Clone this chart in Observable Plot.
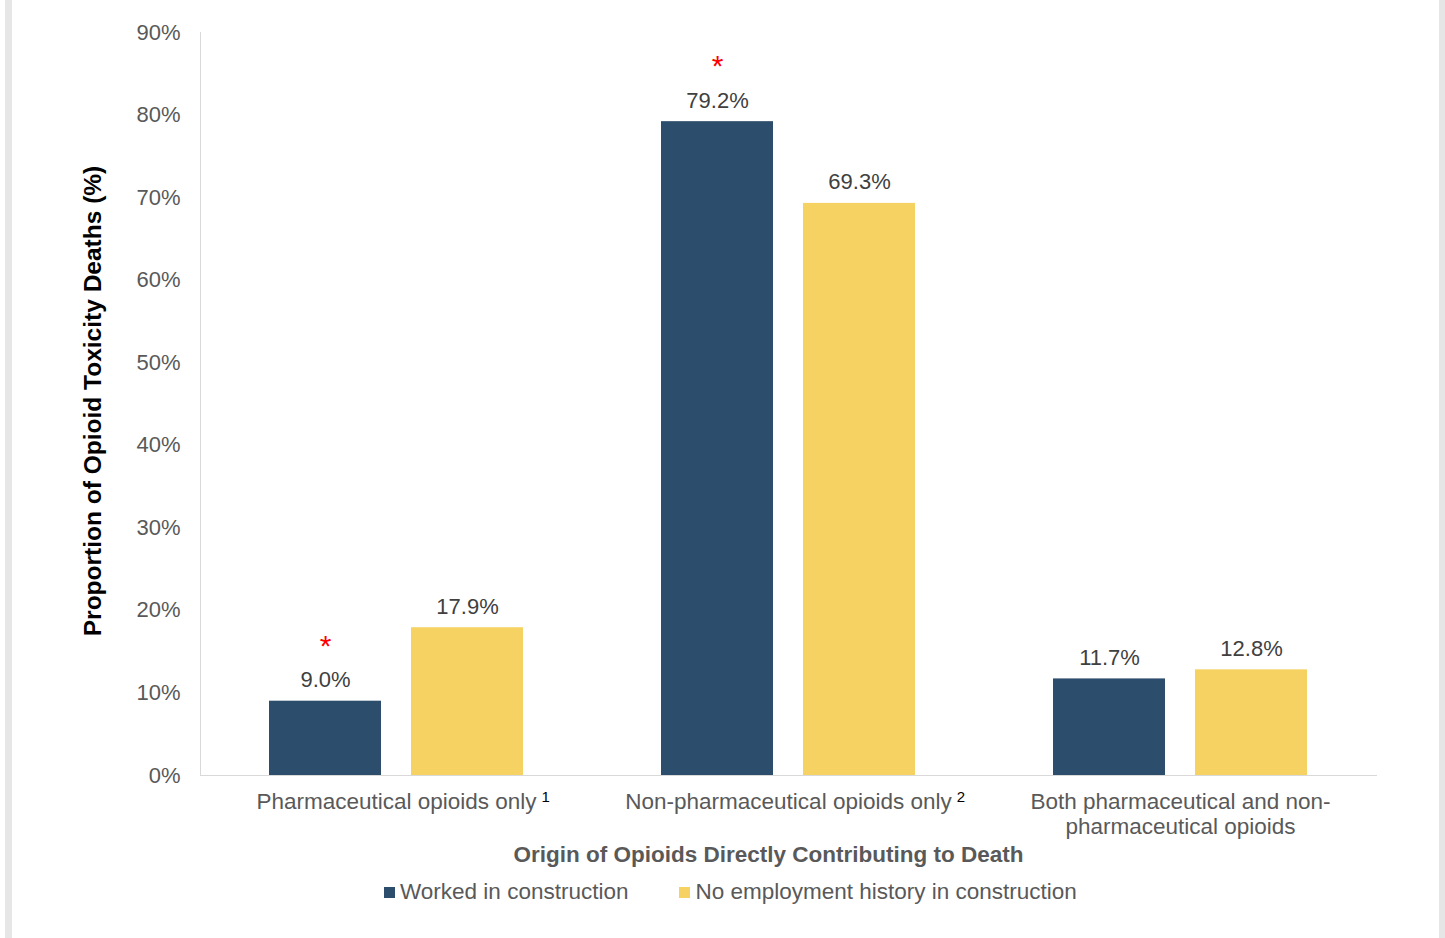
<!DOCTYPE html>
<html>
<head>
<meta charset="utf-8">
<script src="https://cdn.jsdelivr.net/npm/d3@7"></script>
<script src="https://cdn.jsdelivr.net/npm/@observablehq/plot@0.6"></script>
<style>
  html, body { margin: 0; padding: 0; background: #fff; }
  #page { position: relative; width: 1445px; height: 938px; overflow: hidden;
          font-family: "Liberation Sans", Arial, sans-serif; }
  #page::before { content: ""; position: absolute; left: 5px; top: 0; width: 7px; height: 938px; background: #e6e6e6; }
  #page::after { content: ""; position: absolute; left: 1439px; top: 0; width: 6px; height: 938px; background: #e6e6e6; }
  #chart svg { display: block; }
  #legend { position: absolute; left: 384px; top: 879px; display: flex; align-items: center;
            font-size: 22.5px; line-height: 26px; color: #595959; }
  #legend .item { display: flex; align-items: center; margin-right: 51px; }
  #legend .swatch { width: 11px; height: 11px; margin-right: 5px; }
</style>
</head>
<body>
<div id="page">
  <div id="chart"></div>
  <div id="legend"></div>
</div>
<script>
// Origin of opioids directly contributing to death
const categories = [
  "Pharmaceutical opioids only",
  "Non-pharmaceutical opioids only",
  "Both pharmaceutical and non-\npharmaceutical opioids"
];
const footnotes = ["1", "2", ""];

// Employment groups
const series = ["Worked in construction", "No employment history in construction"];
const seriesColors = ["#2D4D6D", "#F5D262"];

// Proportion of opioid toxicity deaths (%)
const workedInConstruction = [9.0, 79.2, 11.7];
const noConstructionHistory = [17.9, 69.3, 12.8];

// Statistically significant difference (flagged with a red asterisk)
const significant = [true, true, false];

const yTicks = [0, 10, 20, 30, 40, 50, 60, 70, 80, 90];

const rows = categories.flatMap((cat, i) => [
  { cat, series: series[0], value: workedInConstruction[i], sig: significant[i] },
  { cat, series: series[1], value: noConstructionHistory[i], sig: false }
]);

const font = "Liberation Sans, Arial, sans-serif";

const chart = Plot.plot({
  width: 1445,
  height: 868,
  marginLeft: 199,
  marginRight: 68,
  marginTop: 32,
  marginBottom: 93,
  style: { fontFamily: font, background: "transparent" },
  fx: { domain: categories, padding: 0, label: null },
  x: { domain: series, paddingInner: 0.21, paddingOuter: 0.478, axis: null },
  y: { domain: [0, 90], label: null },
  color: { domain: series, range: seriesColors },
  marks: [
    Plot.frame({ anchor: "left", facet: "super", stroke: "#d9d9d9" }),
    Plot.frame({ anchor: "bottom", facet: "super", stroke: "#d9d9d9" }),
    Plot.axisY({
      ticks: yTicks, tickFormat: d => d + "%", tickSize: 0, tickPadding: 20,
      fontSize: 22, fill: "#595959", label: null
    }),
    Plot.axisFx({
      anchor: "bottom", tickSize: 0, tickPadding: 16, fontSize: 22.5, fill: "#595959",
      lineHeight: 1.11, label: null
    }),
    Plot.barY(rows, { fx: "cat", x: "series", y: "value", fill: "series" }),
    Plot.text(rows, {
      fx: "cat", x: "series", y: "value",
      text: d => d.value.toFixed(1) + "%",
      dy: -21, fontSize: 22, fill: "#404040"
    }),
    Plot.text(rows.filter(d => d.sig), {
      fx: "cat", x: "series", y: "value",
      text: () => "*", dy: -55, fontSize: 30, fill: "#ff0000"
    }),
    Plot.text(["Proportion of Opioid Toxicity Deaths (%)"], {
      facet: "super", frameAnchor: "left", text: d => d, rotate: -90,
      textAnchor: "middle", lineAnchor: "middle",
      dx: -107, dy: -3, fontSize: 24.5, fontWeight: "bold", fill: "#000000"
    }),
    Plot.text(["Origin of Opioids Directly Contributing to Death"], {
      facet: "super", frameAnchor: "bottom", text: d => d,
      textAnchor: "middle", lineAnchor: "middle",
      dx: -20, dy: 79, fontSize: 22.5, fontWeight: "bold", fill: "#595959"
    })
  ]
});

document.getElementById("chart").append(chart);

// Footnote markers on the category labels; the label itself stays centred
// under its group and the marker hangs off its right end.
const supGap = 5;
d3.select(chart).selectAll('g[aria-label="fx-axis tick label"] text').each(function () {
  const i = categories.indexOf(this.textContent);
  if (i >= 0 && footnotes[i]) {
    const sup = d3.select(this).append("tspan")
      .attr("dx", supGap).attr("dy", -7)
      .attr("font-size", 15).attr("fill", "#000")
      .text(footnotes[i]);
    const w = sup.node().getComputedTextLength();
    d3.select(this).attr("x", (supGap + w) / 2);
  }
});

// Legend
const legend = d3.select("#legend");
series.forEach((s, i) => {
  const item = legend.append("div").attr("class", "item");
  item.append("div").attr("class", "swatch").style("background", seriesColors[i]);
  item.append("span").text(s);
});
</script>
</body>
</html>
